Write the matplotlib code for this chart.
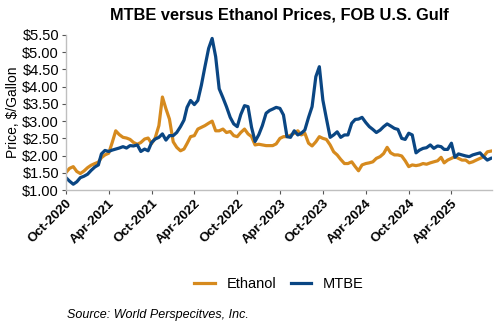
import pandas as pd
import numpy as np
import matplotlib
matplotlib.use("Agg")
import matplotlib.pyplot as plt
import matplotlib.dates as mdates
from matplotlib.ticker import FuncFormatter, MultipleLocator

# Semi-monthly price observations, Oct 2020 - Sep 2025 ($/gallon)
dates = [pd.Timestamp(y, m, d)
         for y, m in [(2020 + (9 + i) // 12, (9 + i) % 12 + 1) for i in range(60)]
         for d in (1, 16)]

ethanol = [
    1.51, 1.63, 1.68, 1.54, 1.48, 1.55, 1.65, 1.72, 1.77, 1.81,
    1.94, 2.02, 2.07, 2.38, 2.72, 2.61, 2.53, 2.51, 2.47, 2.38,
    2.33, 2.38, 2.48, 2.51, 2.35, 2.51, 2.87, 3.70, 3.36, 3.06,
    2.40, 2.24, 2.14, 2.19, 2.35, 2.55, 2.58, 2.77, 2.82, 2.87,
    2.94, 3.00, 2.72, 2.72, 2.77, 2.67, 2.70, 2.58, 2.55, 2.67,
    2.77, 2.63, 2.55, 2.31, 2.33, 2.31, 2.29, 2.29, 2.29, 2.34,
    2.50, 2.55, 2.55, 2.59, 2.65, 2.72, 2.60, 2.65, 2.36, 2.28,
    2.40, 2.55, 2.50, 2.47, 2.31, 2.11, 2.02, 1.89, 1.77, 1.77,
    1.82, 1.68, 1.56, 1.73, 1.77, 1.79, 1.82, 1.92, 1.97, 2.06,
    2.24, 2.08, 2.02, 2.02, 1.99, 1.85, 1.68, 1.73, 1.71, 1.73,
    1.77, 1.75, 1.79, 1.82, 1.85, 1.95, 1.79, 1.87, 1.92, 1.97,
    1.92, 1.87, 1.87, 1.79, 1.82, 1.87, 1.92, 1.97, 2.11, 2.13,
]

mtbe = [
    1.36, 1.26, 1.17, 1.24, 1.36, 1.40, 1.46, 1.57, 1.67, 1.73,
    2.05, 2.15, 2.12, 2.16, 2.19, 2.22, 2.26, 2.22, 2.29, 2.28,
    2.31, 2.12, 2.19, 2.14, 2.38, 2.48, 2.53, 2.63, 2.45, 2.58,
    2.58, 2.67, 2.84, 3.03, 3.40, 3.60, 3.48, 3.60, 4.04, 4.57,
    5.11, 5.40, 4.87, 3.94, 3.68, 3.42, 3.11, 2.92, 2.84, 3.19,
    3.45, 3.42, 2.82, 2.41, 2.61, 2.87, 3.23, 3.31, 3.35, 3.40,
    3.37, 3.18, 2.55, 2.53, 2.72, 2.60, 2.65, 2.74, 3.11, 3.42,
    4.29, 4.58, 3.61, 3.08, 2.53, 2.60, 2.69, 2.53, 2.60, 2.60,
    2.94, 3.05, 3.06, 3.11, 2.96, 2.84, 2.76, 2.67, 2.74, 2.84,
    2.92, 2.86, 2.79, 2.76, 2.50, 2.47, 2.65, 2.60, 2.08, 2.16,
    2.21, 2.23, 2.31, 2.21, 2.28, 2.26, 2.18, 2.18, 2.36, 1.95,
    2.05, 2.02, 1.99, 1.97, 2.02, 2.05, 2.08, 1.97, 1.87, 1.92,
]

ETHANOL_COLOR = "#D68A1E"
MTBE_COLOR = "#0A4683"

plt.rcParams["font.family"] = ["Liberation Sans", "DejaVu Sans"]

fig = plt.figure(figsize=(5, 3.3), dpi=100)
ax = fig.add_axes([0.132, 0.424, 0.852, 0.470])

ax.plot(dates, ethanol, color=ETHANOL_COLOR, linewidth=2.3, label="Ethanol")
ax.plot(dates, mtbe, color=MTBE_COLOR, linewidth=2.3, label="MTBE")

# y axis: dollars per gallon
ax.set_ylim(1.0, 5.5)
ax.yaxis.set_major_locator(MultipleLocator(0.5))
ax.yaxis.set_major_formatter(FuncFormatter(lambda v, p: f"${v:.2f}"))
ax.set_ylabel("Price, $/Gallon", fontsize=10, labelpad=2)
ax.tick_params(axis="y", labelsize=10.5)

# x axis: ticks every April and October
ax.set_xlim(pd.Timestamp(2020, 10, 1), dates[-1] + pd.Timedelta(days=5))
ax.xaxis.set_major_locator(mdates.MonthLocator(bymonth=[4, 10]))
ax.xaxis.set_major_formatter(mdates.DateFormatter("%b-%Y"))
ax.tick_params(axis="x", labelsize=9.5)
for lbl in ax.get_xticklabels():
    lbl.set_rotation(45)
    lbl.set_ha("right")
    lbl.set_rotation_mode("anchor")
    lbl.set_fontweight("bold")

ax.tick_params(axis="both", length=3, width=0.8, color="#555555", pad=2)
for side in ("top", "right"):
    ax.spines[side].set_visible(False)
for side in ("left", "bottom"):
    ax.spines[side].set_color("#BFBFBF")
    ax.spines[side].set_linewidth(1.0)

fig.text(0.558, 0.955, "MTBE versus Ethanol Prices, FOB U.S. Gulf",
         ha="center", va="center", fontsize=11.8, fontweight="bold")

fig.legend(loc="center", bbox_to_anchor=(0.558, 0.14), ncol=2, frameon=False,
           fontsize=10.5, handlelength=1.4, columnspacing=1.0, handletextpad=0.8)

fig.text(0.134, 0.045, "Source: World Perspecitves, Inc.", ha="left", va="center",
         fontsize=9, style="italic")

fig.savefig("out.png", dpi=100)
